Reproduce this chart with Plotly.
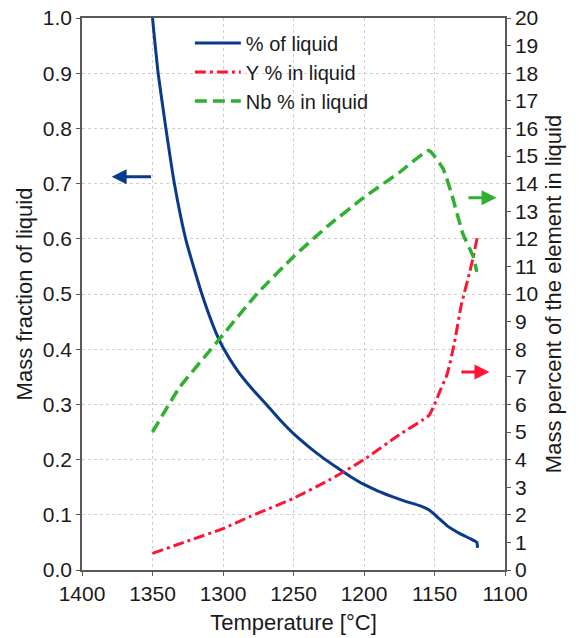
import plotly.graph_objects as go

# Data
liq_T = [1350, 1346, 1340.5, 1334.5, 1326.5, 1315, 1305, 1300, 1290, 1280, 1270, 1260, 1250, 1240, 1230,
         1220, 1210, 1200, 1190, 1180, 1170, 1160, 1154, 1148, 1141, 1132, 1124, 1120, 1119.5]
liq_frac = [1.0, 0.9, 0.8, 0.7, 0.6, 0.5, 0.43, 0.403, 0.362, 0.33, 0.302, 0.273, 0.247, 0.225, 0.205,
            0.187, 0.17, 0.155, 0.143, 0.133, 0.124, 0.116, 0.109, 0.096, 0.08, 0.066, 0.056, 0.05, 0.04]

y_T = [1350, 1325, 1300, 1281, 1250, 1225, 1200, 1175, 1154, 1150, 1146, 1141, 1136, 1131, 1125, 1122.5, 1119.5]
y_pct = [0.6, 1.05, 1.5, 1.93, 2.6, 3.25, 4.0, 4.9, 5.6, 6.0, 6.5, 7.1, 8.2, 9.6, 10.8, 11.35, 12.1]

nb_T = [1350, 1331, 1302, 1276, 1250, 1226, 1200, 1175, 1154, 1144, 1138, 1130, 1122.5, 1120]
nb_pct = [5.0, 6.6, 8.4, 10.0, 11.35, 12.45, 13.5, 14.4, 15.2, 14.55, 13.65, 12.2, 11.35, 10.8]

x_ticks = [1400, 1350, 1300, 1250, 1200, 1150, 1100]

BLUE = "#0a3a8c"
RED = "#ff1434"
GREEN = "#2fb02f"
AX = "#595959"
FONT = "Liberation Sans, Arial, sans-serif"

fig = go.Figure()
fig.add_trace(go.Scatter(x=liq_T, y=liq_frac, mode="lines", name="% of liquid",
                         line=dict(color=BLUE, width=3, shape="spline", smoothing=0.5), yaxis="y"))
fig.add_trace(go.Scatter(x=y_T, y=y_pct, mode="lines", name="Y % in liquid",
                         line=dict(color=RED, width=3, dash="11px,4px,3px,4px", shape="spline", smoothing=0.5),
                         yaxis="y2"))
fig.add_trace(go.Scatter(x=nb_T, y=nb_pct, mode="lines", name="Nb % in liquid",
                         line=dict(color=GREEN, width=3.5, dash="12px,6px", shape="spline", smoothing=0.4),
                         yaxis="y2"))

arrow = dict(text="", showarrow=True, arrowhead=2, arrowsize=1, arrowwidth=3, standoff=0)
fig.add_annotation(x=1379, y=0.7125, ax=1350, ay=0.7125, xref="x", yref="y",
                   axref="x", ayref="y", arrowcolor=BLUE, **arrow)
fig.add_annotation(x=1106, y=13.49, ax=1127, ay=13.49, xref="x", yref="y2",
                   axref="x", ayref="y2", arrowcolor=GREEN, **arrow)
fig.add_annotation(x=1111, y=7.17, ax=1132, ay=7.17, xref="x", yref="y2",
                   axref="x", ayref="y2", arrowcolor=RED, **arrow)

fig.update_layout(
    width=579, height=638,
    margin=dict(l=82, r=74, t=18, b=68, autoexpand=False),
    paper_bgcolor="white", plot_bgcolor="white",
    font=dict(family=FONT, size=21, color="#1a1a1a"),
    showlegend=True,
    legend=dict(x=0.255, y=0.99, xanchor="left", yanchor="top",
                bgcolor="rgba(0,0,0,0)", font=dict(size=20), tracegroupgap=0,
                itemwidth=46),
    xaxis=dict(range=[1400, 1100], tickvals=x_ticks, ticktext=[str(v) for v in x_ticks],
               showgrid=True, gridcolor="#cfcfcf", griddash="dot", gridwidth=1,
               showline=True, linecolor=AX, linewidth=1.5, mirror=True, automargin=False,
               ticks="outside", ticklen=4, tickcolor=AX, zeroline=False,
               title=dict(text="Temperature [°C]", font=dict(size=22), standoff=11)),
    yaxis=dict(range=[0, 1.0], dtick=0.1, tickformat=".1f", automargin=False,
               showgrid=True, gridcolor="#cfcfcf", griddash="dot", gridwidth=1,
               showline=True, linecolor=AX, linewidth=1.5,
               ticks="outside", ticklen=4, tickcolor=AX, zeroline=False,
               title=dict(text="Mass fraction of liquid", font=dict(size=22), standoff=4)),
    yaxis2=dict(range=[0, 20], dtick=1, overlaying="y", side="right", automargin=False,
                showgrid=False, showline=True, linecolor=AX, linewidth=1.5,
                ticks="outside", ticklen=4, tickcolor=AX, zeroline=False,
                title=dict(text="Mass percent of the element in liquid", font=dict(size=22), standoff=8)),
)
fig.update_traces(hoverinfo="skip")

fig.write_html("out.html")
